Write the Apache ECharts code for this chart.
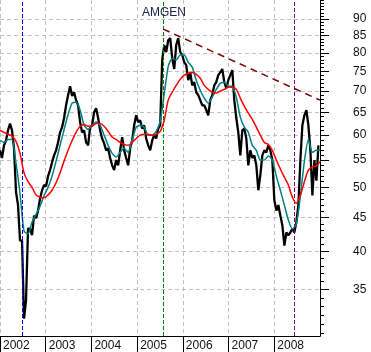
<!DOCTYPE html>
<html>
<head>
<meta charset="utf-8">
<script src="https://cdn.jsdelivr.net/npm/echarts@6/dist/echarts.min.js"></script>
<style>
  html, body { margin: 0; padding: 0; background: #fff; }
  #chart { width: 371px; height: 352px; }
</style>
</head>
<body>
<div id="chart"></div>
<script>
// AMGEN price, 2002 - 2008
const startYear = 2002
const endYear = 2009
const priceStepDays = 16   // one price sample every ~16 days
const maStepDays = 32      // moving averages sampled every ~32 days

const price = [
  56.9, 55.4, 57.9, 58.9, 61.0, 62.5, 61.0, 57.3, 49.2, 47.0,
  41.5, 41.5, 31.6, 33.7, 43.3, 43.3, 42.3, 45.3, 44.9, 46.1,
  48.1, 49.5, 50.4, 50.2, 52.0, 53.1, 54.6, 55.9, 56.9, 58.5,
  60.6, 61.7, 63.7, 66.6, 69.0, 71.2, 68.8, 69.7, 67.8, 66.6,
  62.8, 60.6, 61.0, 58.5, 57.9, 61.7, 62.1, 65.0, 65.9, 63.7,
  61.0, 59.3, 58.3, 56.9, 57.3, 55.4, 54.0, 53.1, 55.0, 54.0,
  56.9, 59.6, 56.9, 55.4, 54.0, 57.3, 58.9, 62.1, 64.3, 62.8,
  63.2, 61.4, 62.1, 59.3, 57.9, 56.9, 58.9, 60.0, 59.3, 61.4,
  62.1, 78.0, 82.2, 80.2, 83.6, 84.2, 78.5, 75.6, 82.2, 84.2,
  80.2, 79.4, 77.4, 76.6, 72.7, 74.7, 71.4, 72.2, 69.7, 69.0,
  67.8, 66.6, 66.6, 65.5, 64.3, 67.8, 69.0, 71.4, 72.2, 74.0,
  74.7, 75.6, 72.2, 70.7, 72.7, 74.0, 75.3, 67.8, 63.7, 60.6,
  55.9, 61.0, 61.4, 59.3, 54.0, 56.9, 55.4, 55.9, 54.0, 49.5,
  52.2, 55.9, 56.9, 56.5, 57.9, 56.9, 55.0, 47.8, 46.1, 47.0,
  45.3, 43.8, 40.8, 42.7, 42.3, 42.7, 43.3, 42.7, 44.3, 47.0,
  55.0, 62.1, 64.3, 65.5, 62.1, 56.9, 48.6, 55.0, 51.2, 57.9
]

const shortMA = [
  58.9, 58.5, 59.1, 59.1, 54.4, 48.9, 42.9, 42.5, 44.3, 45.5,
  46.8, 48.6, 50.0, 52.0, 54.8, 57.9, 61.2, 64.5, 67.1, 67.3,
  65.5, 62.1, 61.2, 62.1, 62.8, 62.1, 60.0, 57.9, 56.3, 55.6,
  56.5, 57.3, 56.5, 58.9, 61.7, 62.1, 61.7, 60.0, 60.0, 60.8,
  63.0, 69.2, 76.3, 78.5, 78.0, 79.4, 79.4, 77.4, 76.1, 72.7,
  70.2, 68.3, 67.1, 68.5, 70.4, 71.9, 72.2, 71.2, 71.2, 68.5,
  63.9, 61.7, 60.6, 57.9, 56.9, 55.0, 55.0, 55.8, 55.0, 52.0,
  49.5, 47.0, 44.6, 43.2, 44.0, 48.5, 54.8, 59.1, 56.5, 56.9,
  56.9
]

const longMA = [
  61.0, 60.6, 60.2, 59.8, 58.7, 56.3, 52.6, 51.0, 50.0, 48.7,
  48.3, 48.2, 48.7, 49.5, 50.8, 52.6, 54.8, 56.9, 58.9, 60.6,
  61.9, 62.3, 61.9, 61.9, 62.5, 62.5, 61.9, 60.8, 59.6, 59.1,
  58.5, 58.1, 57.9, 58.5, 59.3, 60.0, 60.2, 60.2, 60.0, 60.2,
  60.8, 63.2, 67.8, 69.7, 71.4, 72.9, 74.0, 74.5, 74.7, 74.2,
  73.2, 71.4, 70.4, 69.7, 69.5, 70.0, 70.4, 70.9, 70.9, 70.4,
  68.3, 66.4, 64.8, 63.4, 61.7, 60.0, 58.5, 58.1, 56.9, 55.0,
  53.3, 51.8, 50.4, 48.3, 47.3, 48.6, 51.0, 53.1, 53.7, 53.9,
  54.8
]

// marker dates (decimal years) and the falling trend line
const markerDates = [2002.49, 2005.57, 2008.44]
const trendStart = [2005.57, 86.9]
const trendEnd = [2009.0, 67.8]

const yTickLabels = [35, 40, 45, 50, 55, 60, 65, 70, 75, 80, 85, 90]
const yMin = 29.75
const yMax = 96.2
const yMinorTicks = []
for (let v = 30; v <= 96; v++) yMinorTicks.push(v)

const toPairs = (arr, stepDays) =>
  arr.map((v, i) => [startYear + i * stepDays / 365.25, v])

const chart = echarts.init(document.getElementById('chart'), null, { renderer: 'canvas' })

const gridLine = { show: true, lineStyle: { color: '#c0c0c0', type: [4, 3], width: 1 } }
const font = 'Arial, "Liberation Sans", sans-serif'

const option = {
  animation: false,
  backgroundColor: '#fff',
  title: {
    text: 'AMGEN',
    left: 137,
    top: 2,
    textStyle: { fontSize: 12, fontWeight: 'normal', color: '#22224a', fontFamily: font }
  },
  grid: { left: 0, right: 51, top: 0, bottom: 16 },
  xAxis: {
    type: 'value',
    min: startYear,
    max: endYear,
    interval: 1,
    axisLine: { show: true, onZero: false, lineStyle: { color: '#000', width: 1 } },
    axisTick: { show: true, length: 16, lineStyle: { color: '#000' } },
    axisLabel: {
      showMaxLabel: false,
      align: 'left',
      margin: 4,
      padding: [0, 0, 0, 3],
      fontSize: 12,
      color: '#111',
      fontFamily: font,
      formatter: v => String(Math.round(v))
    },
    splitLine: gridLine
  },
  yAxis: [
    {
      type: 'log',
      min: yMin,
      max: yMax,
      position: 'right',
      axisLine: { show: true, lineStyle: { color: '#000', width: 1 } },
      axisTick: { show: true, length: 4, customValues: yMinorTicks, lineStyle: { color: '#000' } },
      axisLabel: { show: false },
      splitLine: { show: false }
    },
    {
      type: 'log',
      min: yMin,
      max: yMax,
      position: 'right',
      axisLine: { show: false },
      axisTick: { show: true, length: 9, customValues: yTickLabels, lineStyle: { color: '#000' } },
      axisLabel: {
        customValues: yTickLabels,
        margin: 33,
        align: 'left',
        padding: [6, 0, 0, 0],
        fontSize: 12,
        color: '#111',
        fontFamily: font
      },
      splitLine: gridLine
    }
  ],
  series: [
    {
      name: 'Price',
      type: 'line',
      yAxisIndex: 1,
      data: toPairs(price, priceStepDays),
      showSymbol: false,
      lineStyle: { color: '#000', width: 2.3 },
      z: 3,
      markLine: {
        silent: true,
        symbol: 'none',
        label: { show: false },
        data: [
          { xAxis: markerDates[0], lineStyle: { color: '#0000ff', type: [4, 2], width: 1 } },
          { xAxis: markerDates[1], lineStyle: { color: '#008000', type: [4, 2], width: 1 } },
          { xAxis: markerDates[2], lineStyle: { color: '#800080', type: [4, 2], width: 1 } },
          [
            { coord: trendStart, lineStyle: { color: '#800000', type: [7, 5], width: 1.5 } },
            { coord: trendEnd }
          ]
        ]
      }
    },
    {
      name: 'Short MA',
      type: 'line',
      yAxisIndex: 1,
      data: toPairs(shortMA, maStepDays),
      showSymbol: false,
      smooth: 0.2,
      lineStyle: { color: '#008080', width: 1.5 },
      z: 4
    },
    {
      name: 'Long MA',
      type: 'line',
      yAxisIndex: 1,
      data: toPairs(longMA, maStepDays),
      showSymbol: false,
      smooth: 0.3,
      lineStyle: { color: '#ff0000', width: 1.5 },
      z: 5
    }
  ]
}

chart.setOption(option)
</script>
</body>
</html>
